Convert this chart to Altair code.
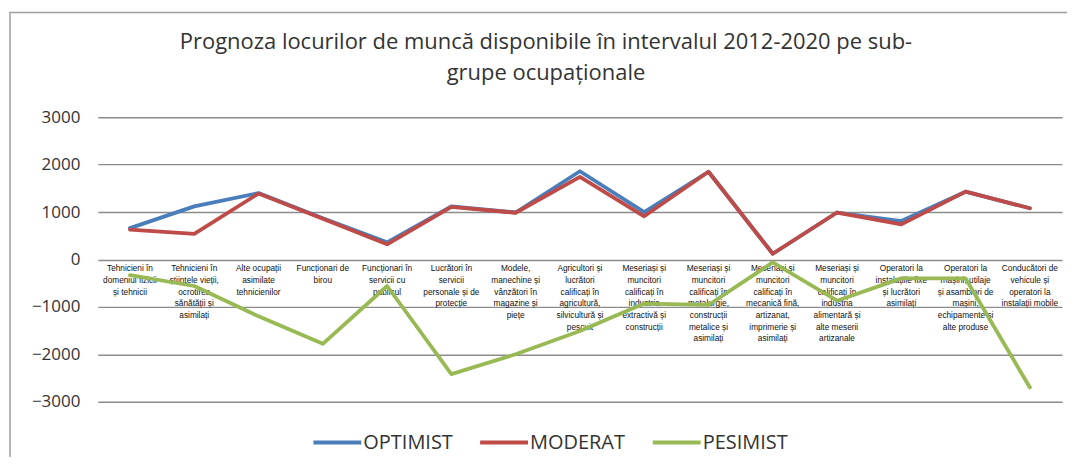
import altair as alt
import pandas as pd

categories = [
    "Tehnicieni în\ndomeniul fizicii\nși tehnicii",
    "Tehnicieni în\nștiințele vieții,\nocrotirea\nsănătății și\nasimilați",
    "Alte ocupații\nasimilate\ntehnicienilor",
    "Funcționari de\nbirou",
    "Funcționari în\nservicii cu\npublicul",
    "Lucrători în\nservicii\npersonale și de\nprotecție",
    "Modele,\nmanechine și\nvânzători în\nmagazine și\npiețe",
    "Agricultori și\nlucrători\ncalificați în\nagricultură,\nsilvicultură și\npescuit",
    "Meseriași și\nmuncitori\ncalificați în\nindustria\nextractivă și\nconstrucții",
    "Meseriași și\nmuncitori\ncalificați în\nmetalurgie,\nconstrucții\nmetalice și\nasimilați",
    "Meseriași și\nmuncitori\ncalificați în\nmecanică fină,\nartizanat,\nimprimerie și\nasimilați",
    "Meseriași și\nmuncitori\ncalificați în\nindustria\nalimentară și\nalte meserii\nartizanale",
    "Operatori la\ninstalațiile fixe\nși lucrători\nasimilați",
    "Operatori la\nmașini, utilaje\nși asamblori de\nmașini,\nechipamente și\nalte produse",
    "Conducători de\nvehicule și\noperatori la\ninstalații mobile",
]

optimist = [660, 1120, 1400, 870, 360, 1120, 990, 1860, 1000, 1850, 120, 990, 810, 1430, 1080]
moderat = [630, 540, 1390, 860, 320, 1110, 985, 1740, 910, 1850, 120, 990, 740, 1430, 1080]
pesimist = [-330, -560, -1200, -1780, -560, -2420, -2000, -1510, -930, -960, -60, -870, -400, -400, -2700]

series_names = ["OPTIMIST", "MODERAT", "PESIMIST"]
series_colors = ["#4A7EBB", "#BE4B48", "#98B954"]

title_lines = [
    "Prognoza locurilor de muncă disponibile în intervalul 2012-2020 pe sub-",
    "grupe ocupaționale",
]
y_ticks = [-3000, -2000, -1000, 0, 1000, 2000, 3000]

rows = []
for name, vals in zip(series_names, [optimist, moderat, pesimist]):
    for i, (c, v) in enumerate(zip(categories, vals)):
        rows.append({"cat": c, "idx": i, "serie": name, "val": v})
df = pd.DataFrame(rows)
cat_df = pd.DataFrame({"cat": categories, "zero": [0] * len(categories)})
title_df = pd.DataFrame({"t": ["\n".join(title_lines)]})

x_scale = alt.Scale(type="point", padding=0.5, domain=categories)
y_scale = alt.Scale(domain=[-3000, 3000], nice=False)

frame = alt.Chart(title_df).mark_rect(
    fill=None, stroke="#a0a0a0", strokeWidth=1.5
).encode(
    x=alt.value(-88), x2=alt.value(973), y=alt.value(-105), y2=alt.value(360)
)

title = alt.Chart(title_df).mark_text(
    baseline="top", align="center", fontSize=22, font="Open Sans", lineBreak="\n",
    lineHeight=31, color="#333"
).encode(
    x=alt.value(449), y=alt.value(-85), text="t:N"
)

labels = alt.Chart(cat_df).mark_text(
    baseline="top", align="center", dy=5, fontSize=8.3, font="Liberation Sans",
    lineBreak="\n", lineHeight=11.7, color="#111"
).encode(
    x=alt.X("cat:N", scale=x_scale, axis=None),
    y=alt.Y("zero:Q", scale=y_scale,
            axis=alt.Axis(values=y_ticks, title=None, grid=True, gridColor="#8c8c8c",
                          gridWidth=1.4, domain=False, ticks=False, labelFontSize=17,
                          labelFont="Open Sans", labelColor="#333", labelPadding=18, format="d")),
    text="cat:N",
)

lines = alt.Chart(df).mark_line(strokeWidth=3.8, strokeJoin="round", strokeCap="round").encode(
    x=alt.X("cat:N", scale=x_scale, axis=None, sort=categories),
    y=alt.Y("val:Q", scale=y_scale),
    color=alt.Color("serie:N",
                    scale=alt.Scale(domain=series_names, range=series_colors),
                    legend=alt.Legend(title=None, orient="none", legendX=214, legendY=300,
                                      direction="horizontal", symbolType="stroke",
                                      symbolStrokeWidth=4, symbolSize=2300,
                                      labelFontSize=20, labelFont="Open Sans", labelColor="#333",
                                      labelOffset=0, columnPadding=19)),
    order=alt.Order("idx:Q"),
)

chart = alt.layer(frame, title, labels, lines).properties(
    width=966, height=285,
    autosize=alt.AutoSizeParams(type="none"),
    padding={"left": 90, "top": 109, "right": 5, "bottom": 55},
).configure_view(stroke=None)

chart.save("out.html", embed_options={"renderer": "svg", "actions": False})
